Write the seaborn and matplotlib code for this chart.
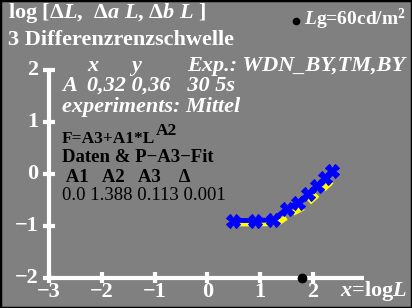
import numpy as np
import pandas as pd
import matplotlib
matplotlib.use("Agg")
import matplotlib.pyplot as plt
import seaborn as sns
from matplotlib.patches import Rectangle

# data
log_L = [0.49, 0.91, 1.25, 1.51, 1.72, 1.91, 2.08, 2.23, 2.36]
log_thr = [-0.90, -0.90, -0.89, -0.67, -0.56, -0.39, -0.23, -0.09, 0.06]
yellow_x = [0.58, 1.00, 1.34, 1.60, 1.81, 2.00, 2.17, 2.32, 2.44]
yellow_y = [-0.96, -0.96, -0.95, -0.77, -0.66, -0.49, -0.33, -0.19, -0.04]

xticks = [-3, -2, -1, 0, 1, 2]
yticks = [-2, -1, 0, 1, 2]
params_head = " A1   A2   A3    Δ"
params_vals = "0.0 1.388 0.113 0.001"

sns.set_style("white")
plt.rcParams["font.family"] = ["Liberation Serif", "DejaVu Serif"]
plt.rcParams["mathtext.fontset"] = "custom"
plt.rcParams["mathtext.rm"] = "Liberation Serif:bold"
plt.rcParams["mathtext.it"] = "Liberation Serif:bold:italic"
plt.rcParams["mathtext.bf"] = "Liberation Serif:bold"

W, H = 412, 308
fig = plt.figure(figsize=(W / 100, H / 100), dpi=100)
fig.patch.set_facecolor("#808080")
ax = fig.add_axes([0, 0, 1, 1])
ax.set_facecolor("#808080")
# pixel mapping: x=0 at 207.3, 52.7 px/unit ; y=0 at 173.8, 51.9 px/unit
ax.set_xlim((0 - 207.3) / 52.7, (W - 207.3) / 52.7)
ax.set_ylim((173.8 - H) / 51.9, 173.8 / 51.9)
ax.axis("off")

# axes lines
ax.plot([-3, 2.98], [-2, -2], color="white", lw=3, solid_capstyle="butt")
ax.plot([-3, -3], [-2, 2.03], color="white", lw=3, solid_capstyle="butt")
for t in xticks:
    ax.plot([t, t], [-2.11, -1.89], color="white", lw=3, solid_capstyle="butt")
    ax.text(t, -2.27, str(t).replace("-", "−"), color="white", fontsize=16,
            fontweight="bold", ha="center", va="center")
for t in yticks:
    ax.plot([-3.11, -2.89], [t, t], color="white", lw=3, solid_capstyle="butt")
    ax.text(-3.2, t, str(t).replace("-", "−"), color="white", fontsize=16,
            fontweight="bold", ha="right", va="center")

ax.plot([1.79], [-2], "o", color="black", ms=6)

df = pd.DataFrame({"x": log_L, "y": log_thr})
dfy = pd.DataFrame({"x": yellow_x, "y": yellow_y})
sns.lineplot(data=dfy, x="x", y="y", ax=ax, color="yellow", lw=4,
             linestyle=(0, (2, 1.5)), sort=False)
sns.lineplot(data=df, x="x", y="y", ax=ax, color="blue", lw=3.5, sort=False,
             marker="X", markersize=10, markeredgecolor="blue")
ax.set_xlabel("")
ax.set_ylabel("")


def px(x, y):
    return x / W, 1 - y / H


fig.text(*px(8, 13), r"log [Δ$L$,  Δ$a$ $L$, Δ$b$ $L$ ]", color="white",
         fontsize=16, fontweight="bold", va="center")
fig.text(*px(8, 40), "3 Differenzrenzschwelle", color="white",
         fontsize=16, fontweight="bold", va="center")
fig.lines.append(plt.Line2D([296 / W], [1 - 21 / H], marker="o", color="black",
                            ms=4.5, transform=fig.transFigure))
fig.text(*px(304, 19), r"$L$g=60cd/m$^2$", color="white", fontsize=14,
         fontweight="bold", va="center")
fig.text(*px(87, 66), "x", color="white",
         fontsize=16, fontweight="bold", style="italic", va="center")
fig.text(*px(131, 66), "y", color="white",
         fontsize=16, fontweight="bold", style="italic", va="center")
fig.text(*px(187, 66), "Exp.: WDN_BY,TM,BY", color="white",
         fontsize=16, fontweight="bold", style="italic", va="center")
fig.text(*px(62, 86), "A  0,32 0,36   30 5s", color="white",
         fontsize=16, fontweight="bold", style="italic", va="center")
fig.text(*px(62, 107), "experiments: Mittel", color="white",
         fontsize=16, fontweight="bold", style="italic", va="center")
ftxt = fig.text(*px(62, 139), "F=A3+A1*L", color="black",
                fontsize=12.5, fontweight="bold", va="center")
fig.canvas.draw()
fx1 = ftxt.get_window_extent().x1
fig.text(fx1 / W + 1 / W, 1 - 131 / H, "A2", color="black",
         fontsize=12.5, fontweight="bold", va="center")
fig.text(*px(62, 158), "Daten & P−A3−Fit", color="black",
         fontsize=13.5, fontweight="bold", va="center")
fig.text(*px(62, 177), params_head, color="black",
         fontsize=13.5, fontweight="bold", va="center")
fig.text(*px(62, 196), params_vals, color="black",
         fontsize=13.5, va="center")
fig.text(*px(340, 291), r"$x$=log$L$", color="white", fontsize=16,
         fontweight="bold", va="center")

fig.patches.append(Rectangle((0, 0), 1, 1, transform=fig.transFigure,
                             fill=False, edgecolor="black", lw=2.5))

fig.savefig("out.png", dpi=100, facecolor=fig.get_facecolor())
